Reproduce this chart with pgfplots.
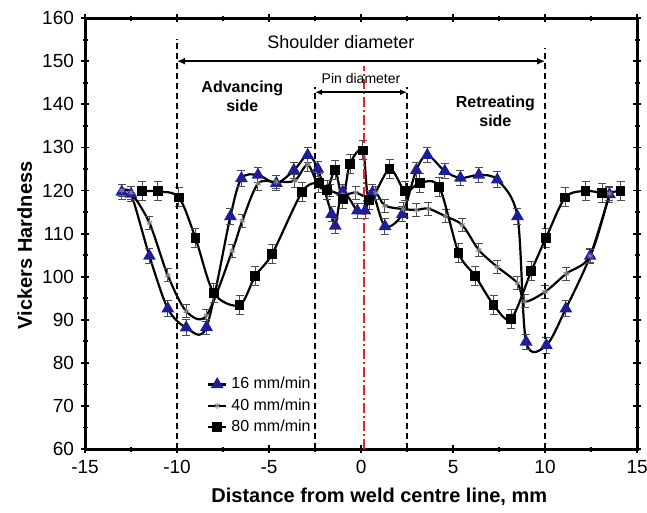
\documentclass[border=0pt]{standalone}
\usepackage{fontspec}
\setmainfont{Liberation Sans}
\usepackage{pgfplots}
\pgfplotsset{compat=1.18}
\usetikzlibrary{arrows.meta}
\definecolor{triblue}{HTML}{1E1E96}
\definecolor{pinred}{HTML}{E8202A}

\begin{document}
\begin{tikzpicture}
\begin{axis}[
  width=276pt, height=215.5pt, scale only axis,
  xmin=-15, xmax=15, ymin=60, ymax=160,
  xtick={-15,-10,...,15},
  xticklabels={-15,-10,-5,0,5,10,15},
  ytick={60,70,...,160},
  minor x tick num=1, minor y tick num=1,
  /pgf/number format/assume math mode=true,
  tick label style={font=\fontsize{9.5}{11}\selectfont},
  axis line style={line width=1.5pt},
  tick style={black, line width=0.9pt},
  major tick length=4pt, minor tick length=2.5pt,
  tick align=center,
  xlabel={Distance from  weld centre line, mm},
  ylabel={Vickers Hardness},
  every axis x label/.style={at={(axis description cs:0.533,-0.111)}, anchor=center, font=\fontsize{10}{12}\selectfont\bfseries},
  every axis y label/.style={at={(axis description cs:-0.109,0.473)}, rotate=90, anchor=center, font=\fontsize{10}{12}\selectfont\bfseries},
  clip=false,
  legend style={at={(axis cs:-8.5,78.2)}, anchor=north west, draw=none, fill=none,
    font=\fontsize{8}{9}\selectfont, row sep=-0.6pt, inner sep=1pt},
  legend cell align=left,
  legend image code/.code={\draw[mark repeat=2,mark phase=2] plot coordinates {(0cm,0cm) (0.16cm,0cm) (0.32cm,0cm)};},
  every axis plot/.append style={line width=1.1pt, smooth, tension=0.5},
]

% 16 mm/min
\addplot[black, mark=triangle*, mark size=2.6pt, mark options={triblue, fill=triblue, solid},
  error bars/.cd, y dir=both, y fixed=1.8,
  error bar style={line width=0.5pt, black!70},
  error mark options={rotate=90, mark size=2pt, line width=0.5pt, black!70}]
  coordinates {
  (-13,119.7) (-12.5,119.2) (-11.5,104.8) (-10.5,92.6) (-9.5,88.2) (-8.4,88.3)
  (-7.1,114) (-6.5,122.8) (-5.6,123.6) (-4.6,121.7) (-3.65,124.7) (-2.9,128.2)
  (-2.35,125) (-1.6,114.5) (-1.4,111.8) (-1.0,119.7) (-0.2,115.3) (0.22,115.3)
  (0.62,119.5) (1.3,111.7) (2.24,114.5) (3.0,124.7) (3.6,128.2) (4.55,124.5)
  (5.4,122.9) (6.4,123.6) (7.4,122.5) (8.5,114) (8.97,84.9) (10.07,84.1)
  (11.13,92.6) (12.45,104.8) (13.5,119.1)
  };
\addlegendentry{16 mm/min}

% 40 mm/min
\addplot[black, mark=asterisk, mark size=1.5pt, mark options={gray, line width=0.5pt, solid},
  error bars/.cd, y dir=both, y fixed=1.5,
  error bar style={line width=0.5pt, black!70},
  error mark options={rotate=90, mark size=2pt, line width=0.5pt, black!70}]
  coordinates {
  (-13,120) (-12.5,119.5) (-11.5,112.5) (-10.5,100.3) (-9.5,92) (-8.4,91)
  (-7.0,106) (-6.45,113) (-5.6,121.6) (-4.6,122) (-3.6,122.3) (-2.9,126)
  (-2.3,121) (-1.7,120) (-1.0,119) (-0.3,119.5) (0.3,118.5) (0.8,119.5)
  (1.3,116.5) (2.3,115.7) (3.0,115.5) (3.65,115.8) (4.6,114) (5.5,112)
  (6.4,106.2) (7.4,102.3) (8.5,98.5) (8.9,94.3) (10.0,96.5) (11.15,100.7)
  (12.45,104.8) (13.5,119.3)
  };
\addlegendentry{40 mm/min}

% 80 mm/min
\addplot[black, mark=square*, mark size=1.9pt, mark options={black, solid},
  error bars/.cd, y dir=both, y fixed=2.2,
  error bar style={line width=0.5pt, black!70},
  error mark options={rotate=90, mark size=2pt, line width=0.5pt, black!70}]
  coordinates {
  (-11.9,119.8) (-11.05,119.8) (-9.9,118.4) (-9.0,109) (-8.0,96.2) (-6.6,93.4)
  (-5.75,100.2) (-4.83,105.3) (-3.2,119.7) (-2.3,121.8) (-1.85,120.2) (-1.4,124.7)
  (-1.0,118) (-0.6,126.2) (0.1,129.3) (0.45,117.8) (1.55,125) (2.4,119.8)
  (3.2,121.8) (4.25,120.8) (5.3,105.5) (6.2,100.2) (7.2,93.5) (8.15,90.2)
  (9.25,101.3) (10.05,109) (11.1,118.4) (12.2,119.9) (13.1,119.5) (14.1,119.9)
  };
\addlegendentry{80 mm/min}

% annotations
\draw[black, line width=0.6pt, dash pattern=on 3pt off 2pt] (axis cs:-10,60) -- (axis cs:-10,155.2);
\draw[black, line width=0.6pt, dash pattern=on 3pt off 2pt] (axis cs:10,60) -- (axis cs:10,153);
\draw[black, line width=0.6pt, dash pattern=on 3pt off 2pt] (axis cs:-2.5,60) -- (axis cs:-2.5,144);
\draw[black, line width=0.6pt, dash pattern=on 3pt off 2pt] (axis cs:2.5,60) -- (axis cs:2.5,144);
\draw[pinred, line width=0.8pt, dash pattern=on 5pt off 1.5pt on 1pt off 1.5pt] (axis cs:0.15,60) -- (axis cs:0.15,149);
\draw[{Latex[length=4pt,width=3.5pt]}-{Latex[length=4pt,width=3.5pt]}, line width=0.8pt] (axis cs:-10,150) -- (axis cs:10,150);
\draw[{Latex[length=3.5pt,width=3pt]}-{Latex[length=3.5pt,width=3pt]}, line width=0.8pt] (axis cs:-2.5,142.8) -- (axis cs:2.5,142.8);
\node[font=\fontsize{9}{11}\selectfont] at (axis cs:-1.1,154.4) {Shoulder diameter};
\node[font=\fontsize{7}{8}\selectfont] at (axis cs:0,145.9) {Pin diameter};
\node[font=\fontsize{8}{9.5}\selectfont\bfseries, align=center] at (axis cs:-6.45,141.8) {Advancing\\side};
\node[font=\fontsize{8}{9.5}\selectfont\bfseries, align=center] at (axis cs:7.3,138.4) {Retreating\\side};

\coordinate (bl) at (axis cs:-19.62,45.4);
\coordinate (tr) at (axis cs:15.54,164.2);
\end{axis}
\pgfresetboundingbox
\path[use as bounding box] (bl) rectangle (tr);
\end{tikzpicture}
\end{document}
